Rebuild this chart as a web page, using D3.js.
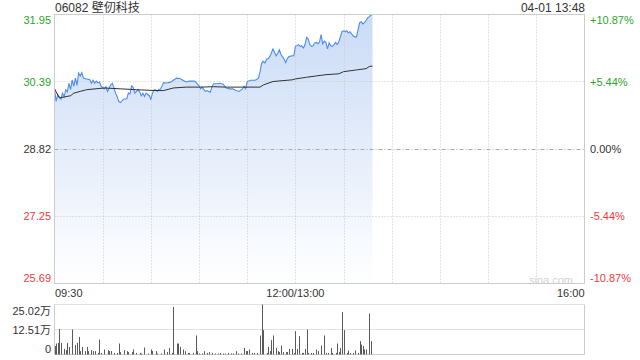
<!DOCTYPE html>
<html>
<head>
<meta charset="utf-8">
<script src="https://cdn.jsdelivr.net/npm/d3@7"></script>
<style>
html,body{margin:0;padding:0;background:#fff;}
svg{display:block;}
text{font-family:"Liberation Sans",Arial,"Noto Sans CJK SC",sans-serif;}
</style>
</head>
<body>
<svg id="chart" width="640" height="360"></svg>
<script>
// ---- data ----
const title = "06082 壁仞科技";
const stamp = "04-01 13:48";
const prevClose = 28.82;
const priceTicks = [31.95, 30.39, 28.82, 27.25, 25.69];
const pctTicks = ["+10.87%", "+5.44%", "0.00%", "-5.44%", "-10.87%"];
const volTicks = [25.02, 12.51, 0];
const volTickLabels = ["25.02万", "12.51万", "0"];
const timeTicks = ["09:30", "12:00/13:00", "16:00"];

const priceTime = ["09:30","09:31","09:32","09:34","09:35","09:36","09:37","09:38","09:39","09:40","09:41","09:42","09:43","09:44","09:45","09:46","09:47","09:48","09:50","09:52","09:53","09:54","09:55","09:56","09:57","09:58","09:59","10:01","10:02","10:03","10:04","10:05","10:06","10:07","10:08","10:09","10:10","10:11","10:13","10:15","10:16","10:17","10:18","10:19","10:20","10:21","10:22","10:23","10:24","10:25","10:26","10:27","10:29","10:30","10:31","10:32","10:33","10:34","10:35","10:36","10:37","10:38","10:39","10:40","10:42","10:44","10:46","10:48","10:50","10:52","10:54","10:57","10:58","10:59","11:00","11:01","11:02","11:03","11:04","11:05","11:06","11:07","11:08","11:09","11:11","11:13","11:15","11:17","11:19","11:21","11:23","11:25","11:27","11:28","11:29","11:30","11:32","11:35","11:37","11:38","11:39","11:40","11:41","11:42","11:43","11:44","11:45","11:46","11:47","11:48","11:49","11:50","11:51","11:52","11:53","11:54","11:55","11:56","11:58","11:59","13:00","13:02","13:03","13:04","13:05","13:06","13:07","13:08","13:09","13:10","13:11","13:12","13:13","13:14","13:15","13:16","13:17","13:18","13:19","13:20","13:21","13:22","13:23","13:24","13:25","13:26","13:27","13:29","13:30","13:31","13:32","13:33","13:34","13:35","13:36","13:37","13:38","13:39","13:40","13:41","13:42","13:43","13:44","13:45","13:46","13:47","13:48"];
const priceValue = [30.22,29.93,30.08,29.98,30.12,30.03,30.20,30.15,30.35,30.20,30.43,30.28,30.47,30.30,30.59,30.52,30.60,30.47,30.45,30.43,30.35,30.42,30.35,30.40,30.36,30.38,30.28,30.22,30.27,30.16,30.24,30.31,30.35,30.25,30.12,30.04,29.93,29.90,29.98,29.99,30.12,30.10,30.29,30.25,30.12,30.16,30.20,30.15,30.06,30.12,30.04,30.12,30.06,29.98,30.12,30.20,30.20,30.16,30.21,30.21,30.29,30.37,30.35,30.36,30.37,30.42,30.47,30.46,30.42,30.38,30.40,30.40,30.38,30.33,30.29,30.22,30.26,30.20,30.16,30.18,30.16,30.14,30.26,30.34,30.34,30.35,30.33,30.24,30.22,30.22,30.18,30.16,30.22,30.28,30.22,30.39,30.42,30.42,30.47,30.62,30.82,30.86,30.82,30.91,30.92,30.97,31.05,31.15,31.07,30.99,31.05,31.13,31.02,30.97,30.91,30.83,30.93,30.97,30.99,30.99,31.21,31.25,31.21,31.22,31.17,31.25,31.42,31.38,31.25,31.21,31.22,31.29,31.30,31.27,31.31,31.48,31.27,31.33,31.30,31.15,31.29,31.22,31.21,31.25,31.30,31.25,31.31,31.55,31.57,31.55,31.57,31.52,31.55,31.50,31.45,31.43,31.43,31.59,31.76,31.78,31.73,31.76,31.81,31.87,31.90,31.94,31.95];

const avgTime = ["09:30","09:33","09:36","09:40","09:42","09:46","09:50","10:01","10:11","10:21","10:32","10:38","10:44","10:52","11:01","11:09","11:17","11:27","11:38","11:40","11:46","11:58","13:00","13:07","13:13","13:19","13:27","13:30","13:38","13:44","13:46","13:48"];
const avgValue = [30.22,30.01,30.03,30.06,30.12,30.16,30.20,30.24,30.22,30.20,30.18,30.18,30.24,30.26,30.26,30.27,30.26,30.26,30.26,30.31,30.39,30.43,30.45,30.49,30.52,30.55,30.57,30.62,30.66,30.69,30.74,30.75];

const volTime = ["09:30","09:31","09:32","09:33","09:34","09:36","09:37","09:38","09:39","09:41","09:43","09:44","09:45","09:46","09:47","09:49","09:50","09:51","09:53","09:54","09:55","09:57","09:58","09:59","10:01","10:03","10:04","10:05","10:07","10:09","10:10","10:11","10:13","10:15","10:16","10:18","10:19","10:21","10:23","10:24","10:26","10:28","10:30","10:31","10:33","10:34","10:36","10:38","10:40","10:41","10:43","10:44","10:46","10:47","10:48","10:50","10:51","10:53","10:54","10:56","10:58","10:59","11:00","11:02","11:03","11:05","11:06","11:08","11:10","11:12","11:13","11:15","11:16","11:18","11:20","11:21","11:23","11:24","11:26","11:28","11:29","11:30","11:31","11:33","11:34","11:36","11:38","11:39","11:40","11:42","11:43","11:44","11:45","11:46","11:48","11:49","11:50","11:51","11:52","11:54","11:55","11:56","11:58","11:59","13:00","13:01","13:02","13:04","13:05","13:06","13:07","13:08","13:10","13:11","13:13","13:14","13:16","13:18","13:19","13:20","13:22","13:23","13:25","13:26","13:27","13:28","13:29","13:30","13:32","13:33","13:34","13:36","13:37","13:39","13:40","13:41","13:42","13:43","13:44","13:46","13:47"];
const volValue = [4.2,5.5,5.8,12.8,5.8,2.8,2.2,5.8,3.8,12.5,4.8,5.8,8.8,1.7,3.8,1.7,3.8,1.7,2.2,1.7,1.7,0.8,7.5,0.8,2.5,2.2,1.7,1.7,0.8,0.8,5.5,1.2,2.2,1.7,1.2,1.2,2.5,0.8,0.8,0.5,3.5,0.5,2.5,1.7,1.7,0.5,0.5,2.5,1.2,3.3,0.8,23.8,5.5,5.5,3.8,2.5,1.7,0.8,0.8,0.8,9.5,1.7,0.5,0.5,1.7,0.8,1.2,0.8,0.5,0.5,0.8,0.5,0.5,0.8,0.5,0.5,1.7,0.5,0.5,3.3,1.7,1.7,2.5,0.8,0.8,0.8,9.5,25.0,12.2,0.8,3.8,1.7,7.2,9.5,3.3,1.7,1.2,4.5,1.2,1.2,1.2,2.8,2.8,0.8,11.7,2.8,9.2,0.8,0.8,2.8,12.5,0.8,0.8,0.8,2.5,1.7,4.5,9.5,0.8,0.8,3.3,0.8,0.8,5.5,1.2,3.3,21.2,12.2,0.8,2.0,0.8,0.8,2.0,0.8,6.7,5.0,4.2,2.5,2.5,20.5,6.7];

// ---- helpers ----
function tradingIndex(t) {
  const [h, m] = t.split(":").map(Number);
  const mins = h * 60 + m;
  if (mins <= 12 * 60) return mins - (9 * 60 + 30);
  return 150 + mins - 13 * 60;
}

const svg = d3.select("#chart");
const L = 54.5, R = 584.5, T = 14.5, B = 283.5;
const VT = 304.5, VB = 354.5;

const x = d3.scaleLinear().domain([0, 330]).range([L, R]);
const y = d3.scaleLinear().domain([priceTicks[4], priceTicks[0]]).range([B, T]);
const yv = d3.scaleLinear().domain([0, volTicks[0]]).range([VB, VT]);

const green = "#2aa52a", red = "#f03b3b", dark = "#333";

// gradient
const defs = svg.append("defs");
const grad = defs.append("linearGradient").attr("id", "fillGrad")
  .attr("gradientUnits", "userSpaceOnUse").attr("x1", 0).attr("y1", T).attr("x2", 0).attr("y2", B);
grad.append("stop").attr("offset", 0).attr("stop-color", "#cadbf6");
grad.append("stop").attr("offset", 1).attr("stop-color", "#ffffff");

const priceData = priceTime.map((t, i) => ({ i: tradingIndex(t), v: priceValue[i] }));
const avgData = avgTime.map((t, i) => ({ i: tradingIndex(t), v: avgValue[i] }));
const volData = volTime.map((t, i) => ({ i: tradingIndex(t), v: volValue[i] }));

// area
svg.append("path").datum(priceData)
  .attr("fill", "url(#fillGrad)")
  .attr("d", d3.area().x(d => x(d.i)).y0(B).y1(d => y(d.v)));

// grid verticals
const g = svg.append("g");
for (let k = 1; k < 11; k++) {
  const xx = Math.round(x(k * 30)) + 0.5;
  g.append("line").attr("x1", xx).attr("x2", xx).attr("y1", T).attr("y2", B)
    .attr("stroke", "#c8c8c8").attr("stroke-dasharray", "1,2");
}
// grid horizontals
[priceTicks[1], priceTicks[3]].forEach(p => {
  const yy = Math.round(y(p) - 0.5) + 0.5;
  g.append("line").attr("x1", L).attr("x2", R).attr("y1", yy).attr("y2", yy)
    .attr("stroke", "#c8c8c8").attr("stroke-dasharray", "1,2");
});
{
  const yy = Math.round(y(prevClose) - 0.5) + 0.5;
  g.append("line").attr("x1", L).attr("x2", R).attr("y1", yy).attr("y2", yy)
    .attr("stroke", "#aaa").attr("stroke-dasharray", "4,2,1,2");
}

// watermark
svg.append("text").attr("x", 573).attr("y", 283.5).attr("text-anchor", "end")
  .attr("font-size", 11).attr("fill", "#d2d2d2").text("sina.com");

// lines
svg.append("path").datum(priceData)
  .attr("fill", "none").attr("stroke", "#4d8cf0").attr("stroke-width", 1.1)
  .attr("d", d3.line().x(d => x(d.i)).y(d => y(d.v)));
svg.append("path").datum(avgData)
  .attr("fill", "none").attr("stroke", "#333").attr("stroke-width", 1)
  .attr("d", d3.line().x(d => x(d.i)).y(d => y(d.v)));

// borders price
svg.append("rect").attr("x", L).attr("y", T).attr("width", R - L).attr("height", B - T)
  .attr("fill", "none").attr("stroke", "#cccccc");

// title
svg.append("text").attr("x", 55).attr("y", 12).attr("font-size", 12).attr("fill", dark).text(title);
svg.append("text").attr("x", 585).attr("y", 12).attr("font-size", 12).attr("fill", dark)
  .attr("text-anchor", "end").text(stamp);

// y labels
const labelColors = [green, green, dark, red, red];
const labelCenters = priceTicks.map((p, k) => {
  let c = y(p);
  if (k === 0) c += 5.5;
  if (k === priceTicks.length - 1) c -= 5.5;
  return c;
});
priceTicks.forEach((p, k) => {
  svg.append("text").attr("x", 51).attr("y", labelCenters[k] + 4).attr("text-anchor", "end")
    .attr("font-size", 11).attr("fill", labelColors[k]).text(p.toFixed(2));
  svg.append("text").attr("x", 590).attr("y", labelCenters[k] + 4)
    .attr("font-size", 11).attr("fill", labelColors[k]).text(pctTicks[k]);
});

// x labels
const xl = [tradingIndex("09:30"), 150, 330];
const anchors = ["start", "middle", "end"];
timeTicks.forEach((t, k) => {
  svg.append("text").attr("x", x(xl[k]) + (k === 0 ? 0.5 : 0)).attr("y", 297)
    .attr("text-anchor", anchors[k]).attr("font-size", 11).attr("fill", dark).text(t);
});

// volume panel
[volTicks[0], volTicks[1]].forEach(v => {
  const yy = yv(v);
  svg.append("line").attr("x1", L).attr("x2", R).attr("y1", yy).attr("y2", yy)
    .attr("stroke", "#c4c4c4").attr("stroke-dasharray", "1,1");
});
svg.append("line").attr("x1", L).attr("x2", L).attr("y1", VT).attr("y2", VB).attr("stroke", "#ccc");
svg.append("line").attr("x1", R).attr("x2", R).attr("y1", VT).attr("y2", VB).attr("stroke", "#ccc");
svg.append("line").attr("x1", L).attr("x2", R).attr("y1", VB).attr("y2", VB).attr("stroke", "#ccc");

svg.append("g").selectAll("rect").data(volData).join("rect")
  .attr("x", d => Math.round(x(d.i)))
  .attr("width", 1)
  .attr("y", d => yv(d.v))
  .attr("height", d => VB - yv(d.v))
  .attr("fill", "#5a5a5a");

volTicks.forEach((v, k) => {
  let c = yv(v);
  if (k === 0) c += 6;
  if (k === volTicks.length - 1) c -= 6;
  svg.append("text").attr("x", 51).attr("y", c + 4).attr("text-anchor", "end")
    .attr("font-size", 11).attr("fill", dark).text(volTickLabels[k]);
});
</script>
</body>
</html>
